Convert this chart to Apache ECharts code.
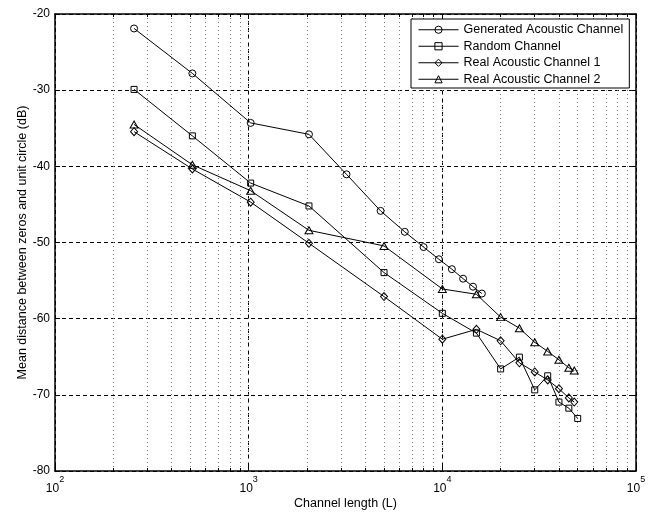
<!DOCTYPE html>
<html><head><meta charset="utf-8">
<script src="https://cdn.jsdelivr.net/npm/echarts@6/dist/echarts.min.js"></script>
<style>html,body{margin:0;padding:0;background:#fff}#c{width:651px;height:512px}</style>
</head><body><div id="c"></div>
<script>
const seriesNames = ['Generated Acoustic Channel', 'Random Channel', 'Real Acoustic Channel 1', 'Real Acoustic Channel 2'];
const xGen = [256, 512, 1024, 2048, 3200, 4800, 6400, 8000, 9600, 11200, 12800, 14400, 16000];
const yGen = [-21.9, -27.8, -34.3, -35.8, -41.05, -45.85, -48.6, -50.6, -52.2, -53.5, -54.75, -55.8, -56.7];
const xRand = [256, 512, 1024, 2048, 5000, 10000, 15000, 20000, 25000, 30000, 35000, 40000, 45000, 50000];
const yRand = [-29.9, -36.0, -42.2, -45.2, -53.95, -59.3, -61.9, -66.6, -65.05, -69.35, -67.5, -70.95, -71.75, -73.1];
const xReal1 = [256, 512, 1024, 2048, 5000, 10000, 15000, 20000, 25000, 30000, 35000, 40000, 45000, 48000];
const yReal1 = [-35.45, -40.35, -44.7, -50.1, -57.1, -62.7, -61.4, -62.9, -65.8, -67.0, -68.05, -69.2, -70.4, -70.95];
const xReal2 = [256, 512, 1024, 2048, 5000, 10000, 15000, 20000, 25000, 30000, 35000, 40000, 45000, 48000];
const yReal2 = [-34.5, -39.8, -43.2, -48.4, -50.45, -56.1, -56.8, -59.8, -61.25, -63.1, -64.3, -65.4, -66.45, -66.8];

const xMajorTicks = [100, 1000, 10000, 100000];
const xMajorExp = ['2', '3', '4', '5'];
const xMinorTicks = [200, 300, 400, 500, 600, 700, 800, 900, 1000, 2000, 3000, 4000, 5000, 6000, 7000, 8000, 9000, 10000, 20000, 30000, 40000, 50000, 60000, 70000, 80000, 90000];
const yTicks = [-80, -70, -60, -50, -40, -30, -20];

const FONT = '"Liberation Sans", Arial, Helvetica, sans-serif';
const zip = (xs, ys) => xs.map((x, i) => [x, ys[i]]);

const symbols = ['circle', 'rect', 'diamond', 'triangle'];
const symSizes = [7, 6, [7, 8], [8, 7]];
const dataSets = [zip(xGen, yGen), zip(xRand, yRand), zip(xReal1, yReal1), zip(xReal2, yReal2)];

const chart = echarts.init(document.getElementById('c'), null, {renderer: 'canvas'});

const AXW = 1.5;
const xBase = {type: 'log', logBase: 10, min: 100, max: 100000, gridIndex: 0, nameMoveOverlap: false};
const option = {
  animation: false,
  backgroundColor: '#fff',
  textStyle: {fontFamily: FONT},
  grid: {left: 55, right: 15, top: 14, bottom: 41, containLabel: false, outerBoundsMode: 'none'},
  legend: {
    orient: 'vertical', left: 411, top: 19,
    data: seriesNames,
    backgroundColor: '#fff', borderColor: '#000', borderWidth: 1,
    padding: [4, 6, 2, 7],
    itemWidth: 40, itemHeight: 9, itemGap: 3,
    itemStyle: {color: 'rgba(0,0,0,0)', borderColor: '#000', borderWidth: 1},
    lineStyle: {color: '#000', width: 1},
    textStyle: {fontFamily: FONT, fontSize: 12.5, color: '#000', lineHeight: 13.5}
  },
  xAxis: [
    Object.assign({}, xBase, {
      position: 'bottom',
      axisLine: {show: true, onZero: false, lineStyle: {color: '#000', width: AXW}},
      axisTick: {show: true, inside: true, length: 5, customValues: xMajorTicks, lineStyle: {color: '#000'}},
      axisLabel: {
        customValues: xMajorTicks, margin: 4, color: '#000',
        formatter: function (v) {
          const i = xMajorTicks.indexOf(Math.round(v));
          return '{b|10}{s|' + xMajorExp[i] + '}';
        },
        rich: {
          b: {fontSize: 12, fontFamily: FONT, color: '#000', lineHeight: 20, verticalAlign: 'bottom'},
          s: {fontSize: 9, fontFamily: FONT, color: '#000', lineHeight: 9, verticalAlign: 'top'}
        }
      },
      splitLine: {show: true, lineStyle: {color: '#000', width: 1, type: [4, 3]}},
      name: 'Channel length (L)', nameLocation: 'middle', nameGap: 26,
      nameTextStyle: {fontFamily: FONT, fontSize: 12.5, color: '#000'}
    }),
    Object.assign({}, xBase, {
      position: 'bottom',
      axisLine: {show: false, onZero: false},
      axisTick: {show: true, inside: true, length: 3, customValues: xMinorTicks, lineStyle: {color: '#000'}},
      axisLabel: {show: false},
      splitLine: {show: true, lineStyle: {color: '#777', width: 1, type: [1, 3]}}
    }),
    Object.assign({}, xBase, {
      position: 'top',
      axisLine: {show: true, onZero: false, lineStyle: {color: '#000', width: AXW}},
      axisTick: {show: true, inside: true, length: 5, customValues: xMajorTicks, lineStyle: {color: '#000'}},
      axisLabel: {show: false},
      splitLine: {show: false}
    }),
    Object.assign({}, xBase, {
      position: 'top',
      axisLine: {show: false, onZero: false},
      axisTick: {show: true, inside: true, length: 3, customValues: xMinorTicks, lineStyle: {color: '#000'}},
      axisLabel: {show: false},
      splitLine: {show: false}
    })
  ],
  yAxis: [
    {
      type: 'value', min: -80, max: -20, interval: 10, position: 'left',
      axisLine: {show: true, onZero: false, lineStyle: {color: '#000', width: AXW}},
      axisTick: {show: true, inside: true, length: 5, customValues: yTicks, lineStyle: {color: '#000'}},
      axisLabel: {customValues: yTicks, margin: 5, color: '#000', fontSize: 12, fontFamily: FONT},
      splitLine: {show: true, lineStyle: {color: '#000', width: 1, type: [4, 3]}},
      name: 'Mean distance between zeros and unit circle (dB)', nameLocation: 'middle', nameGap: 26,
      nameMoveOverlap: false,
      nameTextStyle: {fontFamily: FONT, fontSize: 12.5, color: '#000'}
    },
    {
      type: 'value', min: -80, max: -20, interval: 10, position: 'right',
      axisLine: {show: true, onZero: false, lineStyle: {color: '#000', width: AXW}},
      axisTick: {show: true, inside: true, length: 5, lineStyle: {color: '#000'}},
      axisLabel: {show: false},
      splitLine: {show: false}
    }
  ],
  series: seriesNames.map((name, i) => ({
    name: name, type: 'line', xAxisIndex: 0, yAxisIndex: 0,
    data: dataSets[i],
    symbol: symbols[i], symbolSize: symSizes[i], showSymbol: true,
    lineStyle: {color: '#000', width: 1},
    itemStyle: {color: 'rgba(0,0,0,0)', borderColor: '#000', borderWidth: 1},
    emphasis: {disabled: true},
    z: 5
  }))
};
chart.setOption(option);
</script>
</body></html>
